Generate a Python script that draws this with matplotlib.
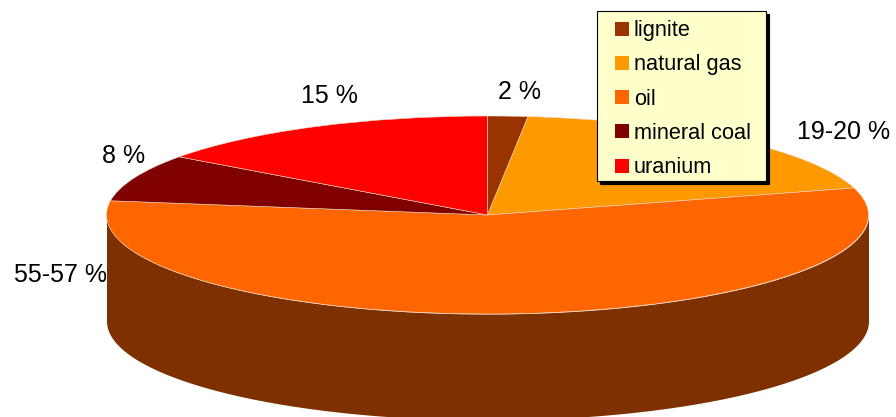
"""Energy mix as an extruded pie chart."""

import numpy as np
import matplotlib
matplotlib.use("Agg")
import matplotlib.pyplot as plt
from matplotlib.legend_handler import HandlerPatch
from matplotlib.patches import Rectangle, Wedge

plt.rcParams["font.family"] = ["Liberation Sans", "DejaVu Sans"]

W, H = 896, 417

categories = ["lignite", "natural gas", "oil", "mineral coal", "uranium"]
shares = [1.7, 18.9, 56.7, 7.7, 15.0]
colors = ["#993300", "#FF9900", "#FF6600", "#800000", "#FF0000"]
share_labels = ["2 %", "19-20 %", "55-57 %", "8 %", "15 %"]

# ellipse of the pie top and wall height, in pixels
CX, CY = 487.5, 215
RX, RY = 381, 99
DEPTH = 106
WALL = "#7F3000"

label_px = [(519, 92), (843.5, 132), (61, 275), (124, 156), (329, 96)]

SWATCH = 14 * 0.72  # legend square, 14 px in points


def right_swatch(legend, orig_handle, xdescent, ydescent, width, height, fontsize):
    # keep the square small and push it to the right of the handle slot
    return Rectangle((width - SWATCH - xdescent, (height - SWATCH) / 2 - ydescent),
                     SWATCH, SWATCH)


fig = plt.figure(figsize=(W / 100, H / 100), dpi=100)
ax = fig.add_axes([0, 0, 1, 1])

# pie radius 1 is stretched to an ellipse by the axes limits below
wedges, _ = ax.pie(shares, colors=colors, startangle=90, counterclock=False,
                   radius=1, wedgeprops={"linewidth": 0.4, "edgecolor": "#F0D8C0", "zorder": 3})

t = np.linspace(np.pi, 2 * np.pi, 300)
ax.fill_between(np.cos(t), np.sin(t), np.sin(t) - DEPTH / RY, color=WALL, lw=0, zorder=2)

ax.set_aspect("auto")
ax.set_xlim(-CX / RX, (W - CX) / RX)
ax.set_ylim((CY - H) / RY, CY / RY)
ax.axis("off")


def to_fig(px, py):
    return px / W, 1 - py / H


for txt, (px, py) in zip(share_labels, label_px):
    fx, fy = to_fig(px, py)
    ax.text(fx, fy, txt, transform=fig.transFigure, fontsize=18, color="black",
            ha="center", va="center", zorder=5)

leg = ax.legend(wedges, categories, loc="upper left",
                bbox_to_anchor=to_fig(597, 11), bbox_transform=fig.transFigure,
                borderaxespad=0, fontsize=15.7, fancybox=False, framealpha=1,
                facecolor="#FFFFCC", edgecolor="black", borderpad=0.42,
                handlelength=0.77, handleheight=0.7, handletextpad=0.23,
                labelspacing=0.61,
                handler_map={Wedge: HandlerPatch(patch_func=right_swatch)},
                shadow={"ox": 2, "oy": -2, "color": "black", "alpha": 1})
leg.get_frame().set_linewidth(0.8)
leg.set_zorder(6)
# box is wider and shorter than its content asks for, as in the original
leg._legend_box.set_width(150.6)
leg._legend_box.set_height(151.6)
for h in leg.get_patches():
    h.set_linewidth(0)

fig.savefig("out.png", dpi=100)
